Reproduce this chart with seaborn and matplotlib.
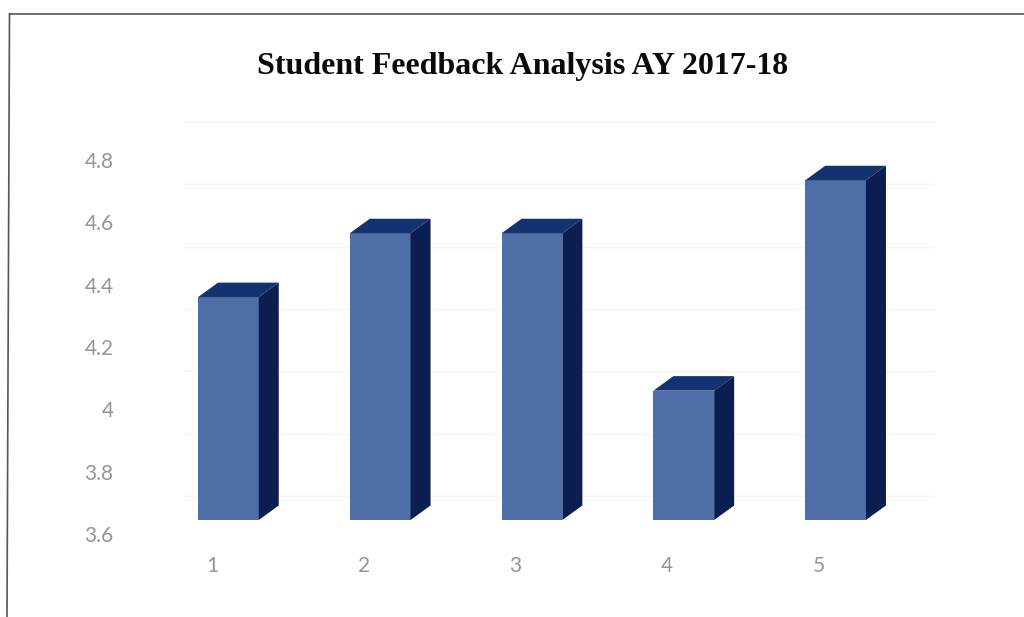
import matplotlib
matplotlib.use("Agg")
import matplotlib.pyplot as plt
import seaborn as sns
import pandas as pd
from matplotlib.lines import Line2D
from matplotlib.patches import Polygon
from matplotlib.transforms import ScaledTranslation

title = "Student Feedback Analysis AY 2017-18"
categories = ["1", "2", "3", "4", "5"]
scores = [4.36, 4.565, 4.565, 4.06, 4.735]
y_ticks = [3.6, 3.8, 4.0, 4.2, 4.4, 4.6, 4.8]
y_labels = ["3.6", "3.8", "4", "4.2", "4.4", "4.6", "4.8"]
bar_floor = 3.645

FRONT = "#4f6ea8"
TOP = "#14326f"
SIDE = "#0a1e52"
TEXT = "#959595"

sns.set_theme(style="white")
plt.rcParams["font.family"] = ["Lato", "DejaVu Sans"]

W, H = 1024, 617
fig = plt.figure(figsize=(W / 100, H / 100), dpi=100, facecolor="#fefefe")
ax = fig.add_axes([152.5 / W, (H - 534) / H, 759 / W, 374 / H])
ax.set_facecolor("none")

df = pd.DataFrame({"item": categories, "score": scores})
sns.barplot(data=df, x="item", y="score", ax=ax, color=FRONT, width=0.4,
            saturation=1, errorbar=None, zorder=3)

ax.set_xlim(-0.5, 4.5)
ax.set_ylim(3.6, 4.8)

# depth of the 3D effect, in data units
dx = 20 / (759 / 5)
dy = 14.5 / (374 / 1.2)

for patch, score in zip(ax.patches, scores):
    patch.set_y(bar_floor)
    patch.set_height(score - bar_floor)
    patch.set_edgecolor("none")
    patch.set_clip_on(False)
    x0 = patch.get_x()
    x1 = x0 + patch.get_width()
    ax.add_patch(Polygon([(x0, score), (x1, score), (x1 + dx, score + dy), (x0 + dx, score + dy)],
                         closed=True, facecolor=TOP, edgecolor="none", clip_on=False, zorder=3))
    ax.add_patch(Polygon([(x1, bar_floor), (x1 + dx, bar_floor + dy), (x1 + dx, score + dy), (x1, score)],
                         closed=True, facecolor=SIDE, edgecolor="none", clip_on=False, zorder=3))

# faint back-wall gridlines sit up and to the right of the tick positions
wall = ax.transData + ScaledTranslation(0, 38 / 100, fig.dpi_scale_trans)
for t in y_ticks:
    ax.plot([-0.29, 4.65], [t, t], color="#f8f3f4", lw=1, transform=wall, clip_on=False, zorder=1)

ax.set_xlabel("")
ax.set_ylabel("")
ax.set_yticks(y_ticks, y_labels)
ax.tick_params(axis="y", length=0, pad=28, labelsize=15, labelcolor=TEXT)
ax.tick_params(axis="x", length=0, pad=16, labelsize=15, labelcolor=TEXT)
shift = ScaledTranslation(-16.5 / 100, 0, fig.dpi_scale_trans)
for lab in ax.get_xticklabels():
    lab.set_transform(lab.get_transform() + shift)
for spine in ax.spines.values():
    spine.set_visible(False)

fig.text(523 / W, 1 - 66.5 / H, title, ha="center", va="center", fontsize=23,
         fontweight="bold", family="Liberation Serif", color="#0a0a0a")

fig.add_artist(Line2D([9.5 / W, 1], [1 - 13.5 / H] * 2, color="#5a5555", lw=1.2))
fig.add_artist(Line2D([9.5 / W, 7 / W], [1 - 13.5 / H, 0], color="#55555f", lw=1.2))

fig.savefig("out.png", dpi=100, facecolor=fig.get_facecolor())
